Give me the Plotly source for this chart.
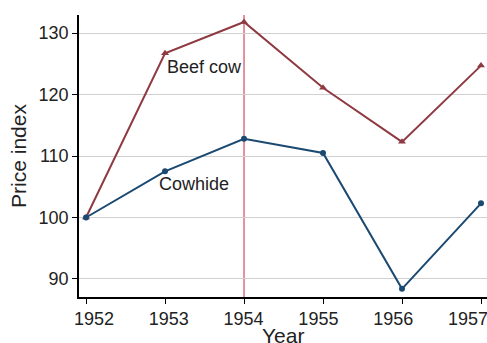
import plotly.graph_objects as go

years = [1952, 1953, 1954, 1955, 1956, 1957]
beef_cow = [100.0, 126.7, 131.8, 121.1, 112.3, 124.7]
cowhide = [100.0, 107.5, 112.8, 110.5, 88.4, 102.3]
y_ticks = [90, 100, 110, 120, 130]
event_year = 1954

RED = "#8f3a42"
BLUE = "#1a4a72"
FONT = "Liberation Sans, Arial, sans-serif"

fig = go.Figure()
fig.add_trace(go.Scatter(
    x=years, y=beef_cow, mode="lines+markers", name="Beef cow",
    line=dict(color=RED, width=2),
    marker=dict(symbol="triangle-up", size=7, color=RED),
))
fig.add_trace(go.Scatter(
    x=years, y=cowhide, mode="lines+markers", name="Cowhide",
    line=dict(color=BLUE, width=2),
    marker=dict(symbol="circle", size=6, color=BLUE),
))
# invisible carrier trace for the year-label axis
fig.add_trace(go.Scatter(x=years, y=[None] * len(years), xaxis="x2",
                         mode="markers", showlegend=False, hoverinfo="skip"))

fig.add_shape(type="line", xref="x", yref="paper", x0=event_year, x1=event_year,
              y0=0, y1=1, line=dict(color="#d04a60", width=1.2), layer="below")

fig.add_annotation(x=1953, y=124.5, text="Beef cow", showarrow=False,
                   xanchor="left", yanchor="middle",
                   font=dict(family=FONT, size=18, color="#222"))
fig.add_annotation(x=1952.9, y=105.4, text="Cowhide", showarrow=False,
                   xanchor="left", yanchor="middle",
                   font=dict(family=FONT, size=18, color="#222"))
# x-axis title
fig.add_annotation(xref="paper", yref="paper", x=0.5, y=0, text="Year",
                   showarrow=False, xanchor="center", yanchor="top", yshift=-25,
                   font=dict(family=FONT, size=21, color="#222"))

fig.update_layout(
    width=487, height=343,
    margin=dict(l=79, r=0, t=15, b=46),
    plot_bgcolor="white", paper_bgcolor="white",
    showlegend=False,
    font=dict(family=FONT, size=18, color="#222"),
    xaxis=dict(
        range=[1951.911, 1957.076], tickvals=years,
        showgrid=False, zeroline=False, showline=True, linecolor="black", linewidth=1.5,
        ticks="outside", ticklen=5, tickcolor="black", showticklabels=False,
        automargin=False,
    ),
    xaxis2=dict(
        overlaying="x", side="bottom", anchor="y",
        range=[1951.80, 1957.254], tickvals=years, ticktext=[str(y) for y in years],
        showgrid=False, zeroline=False, showline=False, ticks="outside", ticklen=5,
        tickcolor="rgba(0,0,0,0)", ticklabeloverflow="allow", automargin=False,
    ),
    yaxis=dict(
        range=[87.07, 132.93], tickvals=y_ticks,
        showgrid=True, gridcolor="#d0d0d0", gridwidth=1, zeroline=False,
        showline=True, linecolor="black", linewidth=1.5,
        ticks="outside", ticklen=5, tickcolor="black", automargin=False,
        title=dict(text="Price index", font=dict(size=21), standoff=6),
    ),
)

fig.write_html("out.html")
